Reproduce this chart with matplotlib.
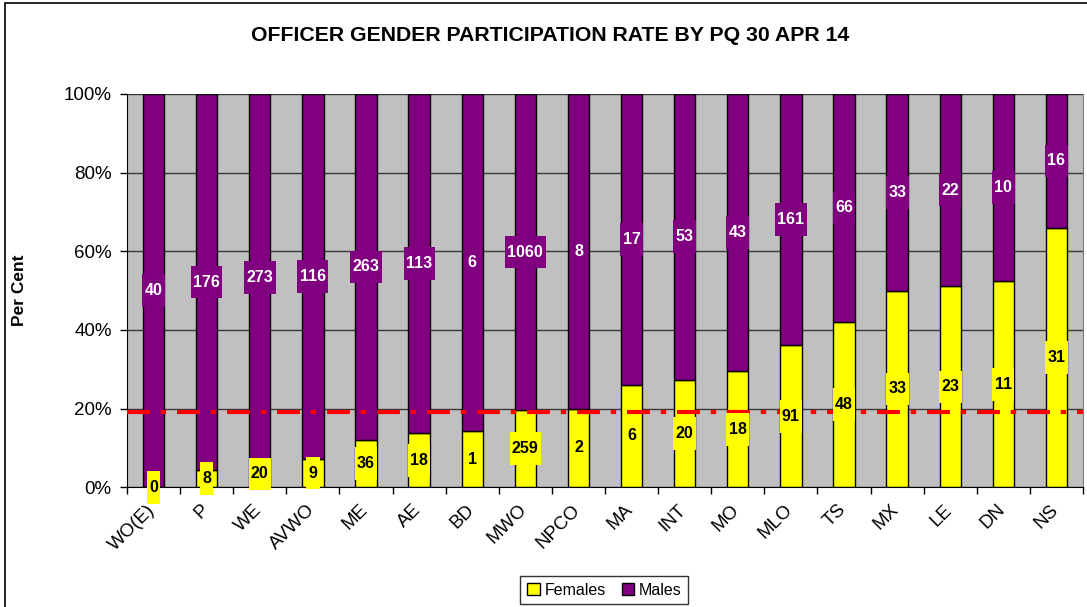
import matplotlib
matplotlib.use("Agg")
import matplotlib.pyplot as plt
import matplotlib.transforms as mtransforms
import numpy as np
from matplotlib.patches import Rectangle
from matplotlib.path import Path

plt.rcParams["font.family"] = ["Liberation Sans", "DejaVu Sans"]

categories = ["WO(E)", "P", "WE", "AVWO", "ME", "AE", "BD", "MWO", "NPCO",
              "MA", "INT", "MO", "MLO", "TS", "MX", "LE", "DN", "NS"]
females = [0, 8, 20, 9, 36, 18, 1, 259, 2, 6, 20, 18, 91, 48, 33, 23, 11, 31]
males = [40, 176, 273, 116, 263, 113, 6, 1060, 8, 17, 53, 43, 161, 66, 33, 22, 10, 16]
target_rate = 19.2

YELLOW = "#FFFF00"
PURPLE = "#800080"


def label_box(x0, y0, width, height, mutation_size):
    # narrow sideways, tall vertically, like the spreadsheet data labels
    px = 0.15 * mutation_size
    py = 0.55 * mutation_size
    x0, y0 = x0 - px, y0 - py
    x1, y1 = x0 + width + 2 * px, y0 + height + 2 * py
    return Path([(x0, y0), (x1, y0), (x1, y1), (x0, y1), (x0, y0)], closed=True)


f = np.array(females, dtype=float)
m = np.array(males, dtype=float)
total = f + m
fem_pct = f / total * 100
male_pct = m / total * 100
x = np.arange(len(categories))

fig = plt.figure(figsize=(10.87, 6.07), dpi=100)
ax = fig.add_axes([127 / 1087, 119.7 / 607, 956 / 1087, 393.3 / 607])
ax.set_facecolor("#C0C0C0")

ax.set_axisbelow(True)
ax.yaxis.grid(True, color="#3a3a3a", linewidth=1)

b_f = ax.bar(x, fem_pct, width=0.4, color=YELLOW, edgecolor="black", linewidth=1, label="Females", zorder=2)
b_m = ax.bar(x, male_pct, width=0.4, bottom=fem_pct, color=PURPLE, edgecolor="black", linewidth=1,
             label="Males", zorder=2)

ax.axhline(target_rate, color="#FF0000", linewidth=3, linestyle=(0, (5.5, 2.6, 1.3, 2.6)), zorder=3)

ax.bar_label(b_f, labels=[str(v) for v in females], label_type="center", fontsize=11.5, fontweight="bold",
             color="black", bbox=dict(boxstyle=label_box, facecolor=YELLOW, edgecolor="none"), zorder=4)
ax.bar_label(b_m, labels=[str(v) for v in males], label_type="center", fontsize=11.5, fontweight="bold",
             color="white", bbox=dict(boxstyle=label_box, facecolor=PURPLE, edgecolor="none"), zorder=4)

ax.set_xlim(-0.5, len(categories) - 0.5)
ax.set_ylim(0, 100)
ax.set_yticks(np.arange(0, 101, 20))
ax.set_yticklabels([f"{v}%" for v in range(0, 101, 20)], fontsize=13.5)
ax.tick_params(axis="y", direction="out", length=5, width=1, pad=6)

ax.set_xticks(x)
ax.set_xticklabels(categories, rotation=45, ha="right", rotation_mode="anchor", fontsize=13.5)
ax.set_xticks(np.arange(-0.5, len(categories), 1), minor=True)
ax.tick_params(axis="x", which="major", length=0, pad=10)
ax.tick_params(axis="x", which="minor", direction="out", length=5, width=1)
shift = mtransforms.ScaledTranslation(-7 / 100, 0, fig.dpi_scale_trans)
for lbl in ax.get_xticklabels():
    lbl.set_transform(lbl.get_transform() + shift)

for side in ["left", "bottom"]:
    ax.spines[side].set_color("black")
ax.spines["top"].set_visible(False)
ax.spines["right"].set_color("#808080")

ax.set_ylabel("Per Cent", fontsize=12.5, fontweight="bold")
ax.yaxis.set_label_coords(-0.105, 0.5)

fig.text(0.506, 0.942, "OFFICER GENDER PARTICIPATION RATE BY PQ 30 APR 14", ha="center", va="center",
         fontsize=15.3, fontweight="bold")

fig.legend(handles=[b_f, b_m], labels=["Females", "Males"], loc="center", bbox_to_anchor=(0.556, 0.028),
           ncol=2, fontsize=11.5, frameon=True, fancybox=False, edgecolor="black", handlelength=0.8,
           handleheight=0.8, handletextpad=0.3, columnspacing=1.0, borderpad=0.4)

fig.patches.append(Rectangle((5 / 1087, -0.1), 1.2, 1.1 - 3 / 607, transform=fig.transFigure,
                             fill=False, edgecolor="black", linewidth=1.2))

fig.savefig("out.png", dpi=100)
